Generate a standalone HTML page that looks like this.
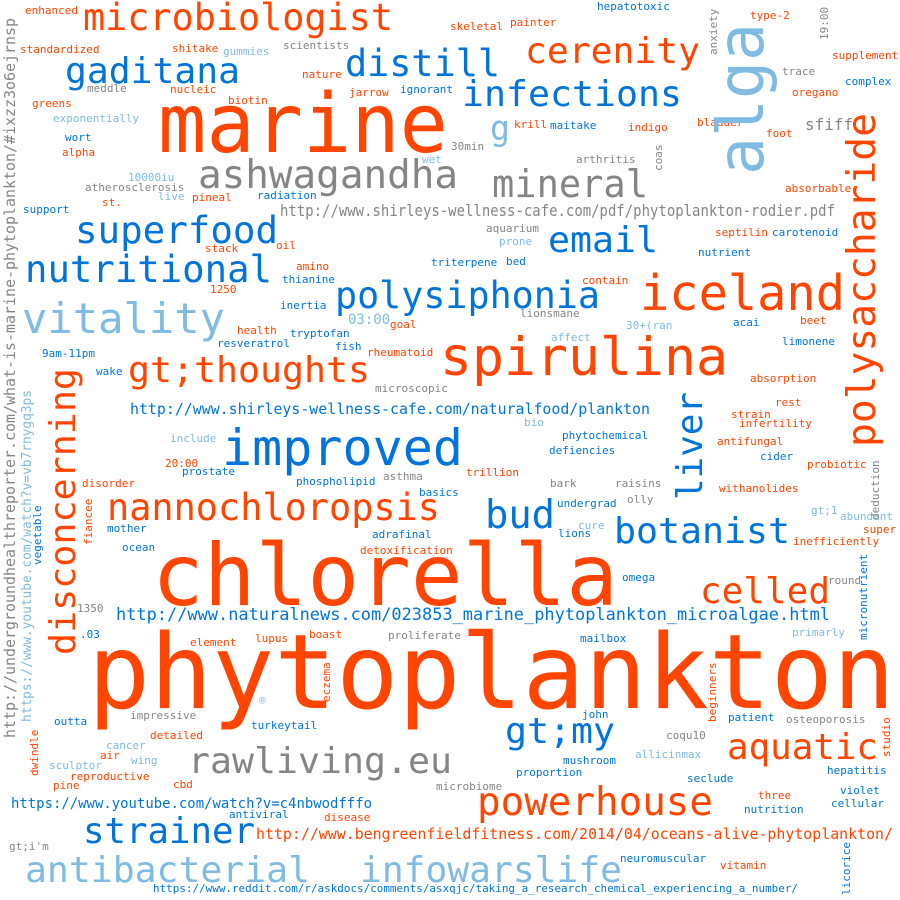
<!DOCTYPE html>
<html><head><meta charset="utf-8"><style>
html,body{margin:0;padding:0;background:#fff;}
svg{display:block;}
text{font-family:"DejaVu Sans Mono","Liberation Mono",monospace;}
</style></head>
<body>
<svg id="cloud" width="900" height="900" viewBox="0 0 900 900" xmlns="http://www.w3.org/2000/svg">
<rect x="0" y="0" width="900" height="900" fill="#ffffff"/>
</svg>
<script>
const O="#ff4500",B="#0074d9",L="#7fbbe3",G="#858585";
// [text, x, y, size, color, vertical(0/1), textLength]
const words=[
["phytoplankton",88,708,103,O,0,807],
["chlorella",152,605,86,O,0,466],
["marine",158,152,82,O,0,290],
["spirulina",440,375,53,O,0,288],
["iceland",640,310,49,O,0,205],
["improved",222,465,50,B,0,241],
["ashwagandha",198,188,39,G,0,260],
["microbiologist",83,30,37,O,0,310],
["distill",345,76,37,B,0,155],
["cerenity",525,63,36,O,0,175],
["gaditana",65,83,36,B,0,175],
["infections",462,106,36,B,0,220],
["g",490,140,34,L,0,20],
["mineral",492,197,38,G,0,156],
["email",548,252,36,B,0,110],
["superfood",75,243,37,B,0,203],
["nutritional",25,282,37,B,0,247],
["vitality",22,333,42,L,0,203],
["polysiphonia",335,308,37,B,0,265],
["gt;thoughts",128,382,36,O,0,242],
["nannochloropsis",107,520,37,O,0,333],
["bud",485,528,39,B,0,70],
["botanist",614,543,36,B,0,176],
["celled",700,603,36,O,0,130],
["gt;my",505,743,36,B,0,110],
["aquatic",727,759,36,O,0,151],
["rawliving.eu",188,773,36,G,0,264],
["powerhouse",477,815,39,O,0,236],
["strainer",83,843,36,B,0,172],
["antibacterial",25,882,36,L,0,285],
["infowarslife",360,882,36,L,0,262],
["http://www.shirleys-wellness-cafe.com/pdf/phytoplankton-rodier.pdf",280,216,16,G,0,555],
["http://www.shirleys-wellness-cafe.com/naturalfood/plankton",130,414,15,B,0,520],
["http://www.naturalnews.com/023853_marine_phytoplankton_microalgae.html",116,620,17,B,0,714],
["https://www.youtube.com/watch?v=c4nbwodfffo",11,808,14,B,0,361],
["http://www.bengreenfieldfitness.com/2014/04/oceans-alive-phytoplankton/",256,839,15,O,0,637],
["https://www.reddit.com/r/askdocs/comments/asxqjc/taking_a_research_chemical_experiencing_a_number/",153,892,11,B,0,645],
["sfiff",805,130,16,G,0,0],
["03:00",348,324,14,L,0,0],
["enhanced",25,14,11,O,0,0],["standardized",20,53,11,O,0,0],["shitake",172,52,11,O,0,0],
["gummies",223,55,11,L,0,0],["scientists",283,49,11,G,0,0],["meddle",87,92,11,G,0,0],
["nucleic",170,93,11,O,0,0],["greens",32,107,11,O,0,0],["biotin",228,104,11,O,0,0],
["exponentially",53,122,11,L,0,0],["wort",65,141,11,B,0,0],["alpha",62,156,11,O,0,0],
["10000iu",128,181,11,L,0,0],["atherosclerosis",85,191,11,G,0,0],["live",158,200,11,L,0,0],
["pineal",192,201,11,O,0,0],["radiation",257,199,11,B,0,0],["st.",102,206,11,O,0,0],
["support",23,213,11,B,0,0],["stack",205,252,11,O,0,0],["oil",276,249,11,O,0,0],
["amino",296,270,11,O,0,0],["thianine",282,283,11,B,0,0],["1250",210,293,11,O,0,0],
["skeletal",450,30,11,O,0,0],["painter",510,26,11,O,0,0],["hepatotoxic",597,10,11,B,0,0],
["nature",302,78,11,O,0,0],["jarrow",349,96,11,O,0,0],["ignorant",400,93,11,B,0,0],
["krill",514,128,11,O,0,0],["maitake",550,129,11,B,0,0],["indigo",628,131,11,O,0,0],
["30min",451,150,11,G,0,0],["wet",422,163,11,L,0,0],["arthritis",576,163,11,G,0,0],
["aquarium",486,232,11,G,0,0],["prone",499,245,11,L,0,0],["triterpene",431,266,11,B,0,0],
["bed",506,265,11,B,0,0],["contain",582,284,11,O,0,0],["nutrient",698,256,11,B,0,0],
["septilin",715,236,11,O,0,0],["carotenoid",772,236,11,B,0,0],["type-2",750,19,11,O,0,0],
["supplement",832,59,11,O,0,0],["trace",782,75,11,G,0,0],["complex",845,85,11,B,0,0],
["oregano",792,96,11,O,0,0],["bladder",697,126,11,O,0,0],["foot",766,137,11,O,0,0],
["absorbable",785,192,11,O,0,0],["inertia",280,309,11,B,0,0],["goal",390,328,11,O,0,0],
["lionsmane",520,317,11,G,0,0],["30+(ran",626,329,11,L,0,0],["health",237,334,11,O,0,0],
["tryptofan",290,337,11,B,0,0],["resveratrol",217,347,11,B,0,0],["fish",335,350,11,B,0,0],
["rheumatoid",367,356,11,O,0,0],["affect",551,341,11,L,0,0],["acai",733,326,11,B,0,0],
["beet",800,324,11,O,0,0],["limonene",782,345,11,B,0,0],["9am-11pm",42,357,11,B,0,0],
["wake",96,375,11,B,0,0],["microscopic",375,392,11,G,0,0],["absorption",750,382,11,O,0,0],
["rest",775,406,11,O,0,0],["strain",731,418,11,O,0,0],["infertility",739,427,11,O,0,0],
["bio",524,426,11,L,0,0],["include",170,442,11,L,0,0],["phytochemical",562,439,11,B,0,0],
["antifungal",717,445,11,O,0,0],["defiencies",549,454,11,B,0,0],["cider",760,460,11,B,0,0],
["20:00",165,467,11,O,0,0],["prostate",182,475,11,B,0,0],["trillion",466,476,11,O,0,0],
["probiotic",807,468,11,O,0,0],["asthma",383,480,11,G,0,0],["phospholipid",296,485,11,B,0,0],
["disorder",82,487,11,O,0,0],["bark",550,487,11,G,0,0],["raisins",615,487,11,G,0,0],
["withanolides",719,492,11,O,0,0],["basics",419,496,11,B,0,0],["olly",627,503,11,G,0,0],
["undergrad",557,507,11,B,0,0],["gt;1",811,514,11,L,0,0],["abundant",840,520,11,L,0,0],
["mother",107,532,11,B,0,0],["cure",578,529,11,L,0,0],["super",863,533,11,O,0,0],
["lions",558,537,11,B,0,0],["adrafinal",372,538,11,B,0,0],["inefficiently",793,545,11,O,0,0],
["ocean",122,551,11,B,0,0],["detoxification",360,554,11,O,0,0],["omega",622,581,11,B,0,0],
["round",828,584,11,G,0,0],["1350",77,612,11,G,0,0],[".03",80,638,11,B,0,0],
["element",190,646,11,O,0,0],["lupus",255,642,11,O,0,0],["boast",309,638,11,O,0,0],
["proliferate",388,639,11,G,0,0],["mailbox",580,642,11,B,0,0],["primarly",792,636,11,L,0,0],
["®",259,704,11,L,0,0],["impressive",130,719,11,G,0,0],["outta",54,725,11,B,0,0],
["turkeytail",251,729,11,B,0,0],["john",582,718,11,B,0,0],["patient",728,721,11,B,0,0],
["osteoporosis",786,723,11,G,0,0],["coqu10",666,739,11,G,0,0],["detailed",150,739,11,O,0,0],
["cancer",106,749,11,L,0,0],["air",100,759,11,O,0,0],["wing",131,764,11,L,0,0],
["sculptor",49,769,11,L,0,0],["allicinmax",635,758,11,L,0,0],["reproductive",70,780,11,O,0,0],
["mushroom",563,764,11,B,0,0],["proportion",516,776,11,B,0,0],["pine",53,789,11,O,0,0],
["cbd",173,788,11,O,0,0],["seclude",687,782,11,B,0,0],["hepatitis",827,774,11,B,0,0],
["microbiome",436,790,11,G,0,0],["antiviral",229,818,11,B,0,0],["disease",324,821,11,O,0,0],
["three",758,799,11,O,0,0],["violet",840,794,11,B,0,0],["nutrition",744,813,11,B,0,0],
["cellular",831,807,11,B,0,0],["gt;i'm",9,850,11,G,0,0],["neuromuscular",620,862,11,B,0,0],
["vitamin",720,869,11,O,0,0],
// vertical words: x = baseline x, y = start (bottom)
["alga",763,175,64,L,1,152],
["polysaccharide",875,447,39,O,1,334],
["disconcerning",75,655,36,O,1,287],
["liver",702,500,36,B,1,108],
["http://undergroundhealthreporter.com/what-is-marine-phytoplankton/#ixzz3o6ejrnsp",15,738,15,G,1,720],
["https://www.youtube.com/watch?v=vb7rnygq3ps",31,722,13,L,1,332],
["anxiety",717,55,11,G,1,0],["19:00",828,40,11,G,1,0],["coas",662,171,11,G,1,0],
["fiancee",92,545,11,O,1,0],["vegetable",41,565,11,B,1,0],["deduction",879,520,11,G,1,0],
["micronutrient",867,640,11,B,1,0],["eczema",330,702,11,O,1,0],["beginners",716,722,11,O,1,0],
["studio",890,757,11,O,1,0],["dwindle",38,776,11,O,1,0],["licorice",850,895,11,B,1,0]
];
const svg=document.getElementById('cloud');
const NS="http://www.w3.org/2000/svg";
words.forEach(function(w){
  const t=document.createElementNS(NS,'text');
  t.textContent=w[0];
  t.setAttribute('font-size',w[3]);
  t.setAttribute('fill',w[4]);
  if(w[5]){t.setAttribute('transform','translate('+w[1]+','+w[2]+') rotate(-90)');t.setAttribute('x',0);t.setAttribute('y',0);}
  else{t.setAttribute('x',w[1]);t.setAttribute('y',w[2]);}
  if(w[6]){t.setAttribute('textLength',w[6]);t.setAttribute('lengthAdjust','spacingAndGlyphs');}
  
  
  svg.appendChild(t);
});
</script>
</body></html>
